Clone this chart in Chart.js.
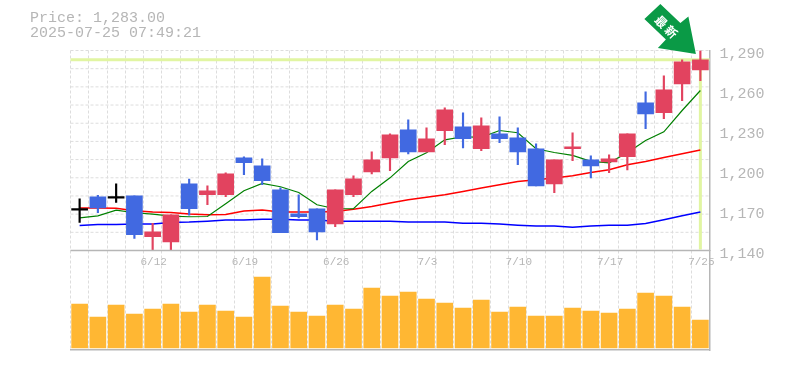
<!DOCTYPE html>
<html>
<head>
<meta charset="utf-8">
<style>
  body { margin: 0; background: #fff; }
  canvas { display: block; }
</style>
<script src="https://cdn.jsdelivr.net/npm/chart.js@4"></script>
</head>
<body>
<canvas id="myChart" width="785" height="370"></canvas>
<script>
const dates = ['6/6','6/9','6/10','6/11','6/12','6/13','6/16','6/17','6/18','6/19','6/20','6/23','6/24','6/25','6/26','6/27','6/30','7/1','7/2','7/3','7/4','7/7','7/8','7/9','7/10','7/11','7/14','7/15','7/16','7/17','7/18','7/22','7/23','7/24','7/25'];
const dateTicks = ['6/12','6/19','6/26','7/3','7/10','7/17','7/25'];
const priceTicks = [1140,1170,1200,1230,1260,1290];

const opens = [1170.3,1180.3,1179.3,1181,1150.3,1146.5,1190,1181.8,1181.8,1209.5,1203.5,1185.5,1167.5,1171.3,1160,1181.8,1199,1209.5,1230.5,1214,1229.8,1232.8,1216.3,1227.5,1224.5,1216.3,1190,1216.3,1208,1206.5,1210.3,1250.8,1243.3,1265,1275.5];
const closes = [1170.3,1172,1179.3,1151.8,1154,1166.8,1171.3,1184.8,1197.5,1205.8,1192.3,1153.3,1165.3,1154,1185.5,1193.8,1208,1226.8,1214,1223.8,1245.5,1223.8,1233.5,1223.8,1214,1188.5,1208,1217.8,1203.5,1208.8,1227.5,1242.5,1260.5,1281.5,1283];
const highs = [1178.8,1181.3,1190,1181,1160.3,1166.8,1193.5,1188.5,1198.3,1210.3,1208.8,1187,1181.8,1171.3,1185.5,1196,1214,1227.5,1238,1232,1247,1243.3,1239.5,1240.3,1232,1220,1208,1228.3,1211,1211.8,1227.5,1259,1271,1283,1290];
const lows = [1161,1168.3,1176,1149,1140,1140.5,1166.5,1174.3,1180.3,1196.8,1189.3,1153.3,1164.5,1148,1157.8,1180.3,1197.5,1199.8,1212.5,1214,1219.3,1217,1214.8,1220.8,1204.3,1188.5,1183.3,1207.3,1194.5,1198.3,1200.5,1231.3,1238.8,1252.3,1267.3];

const maShort = [1164.5,1166,1170.2,1168.3,1167.3,1165.8,1165.3,1165.5,1175,1184.8,1190.3,1187.8,1183.5,1174.3,1171.3,1171.3,1184.3,1194.5,1206.8,1213.3,1223,1225.3,1224.8,1230,1228.3,1216.3,1213.5,1211.3,1206.8,1205.8,1213.3,1222.5,1229,1245,1260];
const maMid = [1171.8,1171.8,1171.7,1169.8,1168.8,1168.5,1167.3,1166.8,1167,1169.6,1170.3,1168.8,1168.8,1168.8,1169.3,1171,1173,1175.6,1178,1180,1181.8,1184.3,1186.8,1189.3,1191.8,1193,1194.3,1196,1198.5,1200.5,1204.3,1206.8,1209.8,1212.5,1215.3];
const maLong = [1158.8,1159.5,1159.5,1159.8,1159.8,1161,1161.3,1162,1162.8,1162.8,1163.5,1163.5,1162.8,1162.8,1162,1162,1162,1162,1161.3,1161.3,1161.3,1160.5,1160.5,1159.8,1159,1158.3,1158.3,1157.5,1158.3,1159,1159,1160.3,1163,1166,1168.8];

const volumes = [44,31,43,34,39,44,36,43,37,31,71,42,36,32,43,39,60,52,56,49,45,40,48,36,41,32,32,40,37,35,39,55,52,41,28];

const lastPrice = 1283;
const priceText = 'Price: 1,283.00';
const timeText = '2025-07-25 07:49:21';

const RED = '#e2435f';
const BLUE = '#4169e1';
const GRAY = '#b6b6b6';
const GRID = '#dddddd';
const HILITE = '#e1f5a2';
const MONO = '"Liberation Mono", monospace';

function candleColor(o, c) {
  if (o === c) return '#000000';
  return c > o ? RED : BLUE;
}
const candleColors = opens.map((o, i) => candleColor(o, closes[i]));

// grid, highlight lines go under the marks
const underlay = {
  id: 'underlay',
  beforeDatasetsDraw(chart) {
    const ctx = chart.ctx;
    const { x, y } = chart.scales;
    const area = chart.chartArea;
    ctx.save();
    ctx.strokeStyle = GRID;
    ctx.lineWidth = 1;
    ctx.setLineDash([3, 2]);
    for (let i = 0; i < 11; i++) {
      const py = y.top + (y.bottom - y.top) * i / 11;
      ctx.beginPath();
      ctx.moveTo(area.left, py);
      ctx.lineTo(area.right, py);
      ctx.stroke();
    }
    ctx.setLineDash([]);
    ctx.strokeStyle = HILITE;
    ctx.lineWidth = 3;
    const py = y.getPixelForValue(lastPrice);
    const px = x.getPixelForValue(dates.length - 1);
    ctx.beginPath();
    ctx.moveTo(area.left, py);
    ctx.lineTo(area.right, py);
    ctx.moveTo(px, py);
    ctx.lineTo(px, y.bottom - 1);
    ctx.stroke();
    ctx.restore();
  }
};

// header text, date labels inside the volume panel, panel line, arrow
const overlay = {
  id: 'overlay',
  afterDraw(chart) {
    const ctx = chart.ctx;
    const { x, y } = chart.scales;
    ctx.save();
    ctx.strokeStyle = GRAY;
    ctx.lineWidth = 1.5;
    ctx.beginPath();
    ctx.moveTo(chart.chartArea.left, y.bottom);
    ctx.lineTo(chart.chartArea.right, y.bottom);
    ctx.stroke();

    ctx.fillStyle = GRAY;
    ctx.textBaseline = 'middle';
    ctx.font = '15px ' + MONO;
    ctx.fillText(priceText, 30, 18);
    ctx.fillText(timeText, 30, 33);

    ctx.font = '11px ' + MONO;
    ctx.textAlign = 'center';
    dateTicks.forEach(d => {
      ctx.fillText(d, x.getPixelForValue(dates.indexOf(d)) + 1, y.bottom + 12);
    });

    // arrow points at the last candle
    const tipX = x.getPixelForValue(dates.length - 1) - 4.5;
    const tipY = y.top + 3.5;
    const arrow = [[0,0],[-38,-6],[-30,-14.5],[-51.5,-35],[-35.5,-50],[-15.5,-31],[-7.5,-37.5]];
    ctx.fillStyle = '#0a9a46';
    ctx.beginPath();
    arrow.forEach((p, i) => {
      if (i === 0) ctx.moveTo(tipX + p[0], tipY + p[1]);
      else ctx.lineTo(tipX + p[0], tipY + p[1]);
    });
    ctx.closePath();
    ctx.fill();

    ctx.translate(tipX - 29, tipY - 26.5);
    ctx.rotate(Math.PI / 4);
    ctx.fillStyle = '#ffffff';
    ctx.font = 'bold 12px "Noto Sans CJK JP"';
    ctx.letterSpacing = '2px';
    ctx.fillText('最新', 0, 0);
    ctx.restore();
  }
};

const config = {
  type: 'bar',
  data: {
    labels: dates,
    datasets: [
      { type: 'line', data: maLong, borderColor: '#0000ff', borderWidth: 1.5, pointRadius: 0, yAxisID: 'y', order: 5 },
      { type: 'line', data: maMid, borderColor: '#ff0000', borderWidth: 1.5, pointRadius: 0, yAxisID: 'y', order: 4 },
      { type: 'line', data: maShort, borderColor: '#008000', borderWidth: 1.2, pointRadius: 0, yAxisID: 'y', order: 3 },
      { data: lows.map((l, i) => [l, highs[i]]), backgroundColor: candleColors, barThickness: 1.5, yAxisID: 'y', order: 2 },
      { data: opens.map((o, i) => [o, closes[i]]), backgroundColor: candleColors, barThickness: 16, minBarLength: 1.5, yAxisID: 'y', order: 1 },
      { data: volumes, backgroundColor: '#ffb733', barThickness: 16, yAxisID: 'yVol', order: 1 }
    ]
  },
  options: {
    responsive: false,
    animation: false,
    events: [],
    layout: { padding: { left: 70.5, right: 0, top: 50.5, bottom: 20 } },
    datasets: { bar: { grouped: false } },
    plugins: { legend: { display: false }, tooltip: { enabled: false } },
    scales: {
      x: {
        offset: true,
        ticks: { display: false, autoSkip: false },
        grid: { color: GRID, offset: true, drawTicks: false },
        border: { color: GRAY, width: 1.5, dash: [3, 2] }
      },
      y: {
        position: 'right',
        stack: 'panels',
        stackWeight: 200,
        min: 1140,
        max: 1290,
        afterBuildTicks(scale) { scale.ticks = priceTicks.map(v => ({ value: v })); },
        afterFit(scale) { scale.width = 75.5; },
        ticks: {
          color: GRAY,
          padding: 2,
          autoSkip: false,
          labelOffset: 4,
          font: { family: MONO, size: 15 },
          callback: v => v.toLocaleString('en-US')
        },
        grid: { display: false },
        border: { color: GRAY, width: 1.5 }
      },
      yVol: {
        position: 'right',
        stack: 'panels',
        stackWeight: 99.5,
        min: -2,
        max: 97.5,
        afterFit(scale) { scale.width = 75.5; },
        ticks: { display: false },
        grid: { display: false },
        border: { color: GRAY, width: 1.5 }
      }
    }
  },
  plugins: [underlay, overlay]
};

const myChart = new Chart(document.getElementById('myChart'), config);
</script>
</body>
</html>
